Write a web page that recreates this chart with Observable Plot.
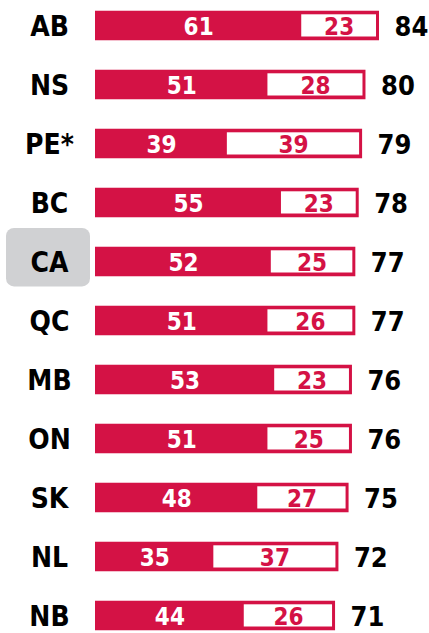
<!DOCTYPE html>
<html>
<head>
<meta charset="utf-8">
<script src="https://cdn.jsdelivr.net/npm/d3@7"></script>
<script src="https://cdn.jsdelivr.net/npm/@observablehq/plot@0.6"></script>
<style>
  html, body { margin: 0; padding: 0; background: #fff; }
  svg text { font-stretch: condensed; }
</style>
</head>
<body>
<div id="chart"></div>
<script>
const names  = ["AB", "NS", "PE*", "BC", "CA", "QC", "MB", "ON", "SK", "NL", "NB"];
const segA   = [61, 51, 39, 55, 52, 51, 53, 51, 48, 35, 44];
const segB   = [23, 28, 39, 23, 25, 26, 23, 25, 27, 37, 26];
const totals = [84, 80, 79, 78, 77, 77, 76, 76, 75, 72, 71];
const highlight = ["CA"];

const RED = "#d41245";
const GRAY = "#d0d1d3";
const FONT = "'DejaVu Sans Condensed', 'DejaVu Sans', sans-serif";

const data = names.map((n, i) => ({name: n, a: segA[i], b: segB[i], total: totals[i]}));

const chart = Plot.plot({
  width: 429,
  height: 633,
  margin: 0,
  x: {domain: [0, 84], range: [95, 379], axis: null},
  y: {domain: names, range: [-6.735, 647.435], padding: 0, axis: null},
  marks: [
    Plot.barX(highlight, {
      y: d => d, x1: d => 0, x2: d => 0,
      insetLeft: -89, insetRight: 5, insetTop: -4, insetBottom: 4.6,
      rx: 8, fill: GRAY
    }),
    Plot.barX(data, {
      y: "name", x1: d => 0, x2: "total", fill: RED,
      insetTop: 14.74, insetBottom: 14.74
    }),
    Plot.barX(data, {
      y: "name", x1: "a", x2: "total", fill: "white",
      insetTop: 18.3, insetBottom: 18.5, insetRight: 3
    }),
    Plot.text(data, {
      y: "name", x: d => d.a / 2, text: "a", fill: "white",
      fontSize: 24, fontWeight: "bold", fontFamily: FONT, dy: 1
    }),
    Plot.text(data, {
      y: "name", x: d => (d.a + d.total) / 2, text: "b", fill: RED,
      fontSize: 24, fontWeight: "bold", fontFamily: FONT, dx: -1.5, dy: 1
    }),
    Plot.text(data, {
      y: "name", x: "total", text: "total", fill: "black",
      textAnchor: "start", dx: 15, dy: 1,
      fontSize: 27, fontWeight: "bold", fontFamily: FONT
    }),
    Plot.text(data, {
      y: "name", x: d => 0, text: "name", fill: "black",
      dx: -46, dy: 1,
      fontSize: 28, fontWeight: "bold", fontFamily: FONT
    })
  ]
});
document.getElementById("chart").appendChild(chart);
</script>
</body>
</html>
